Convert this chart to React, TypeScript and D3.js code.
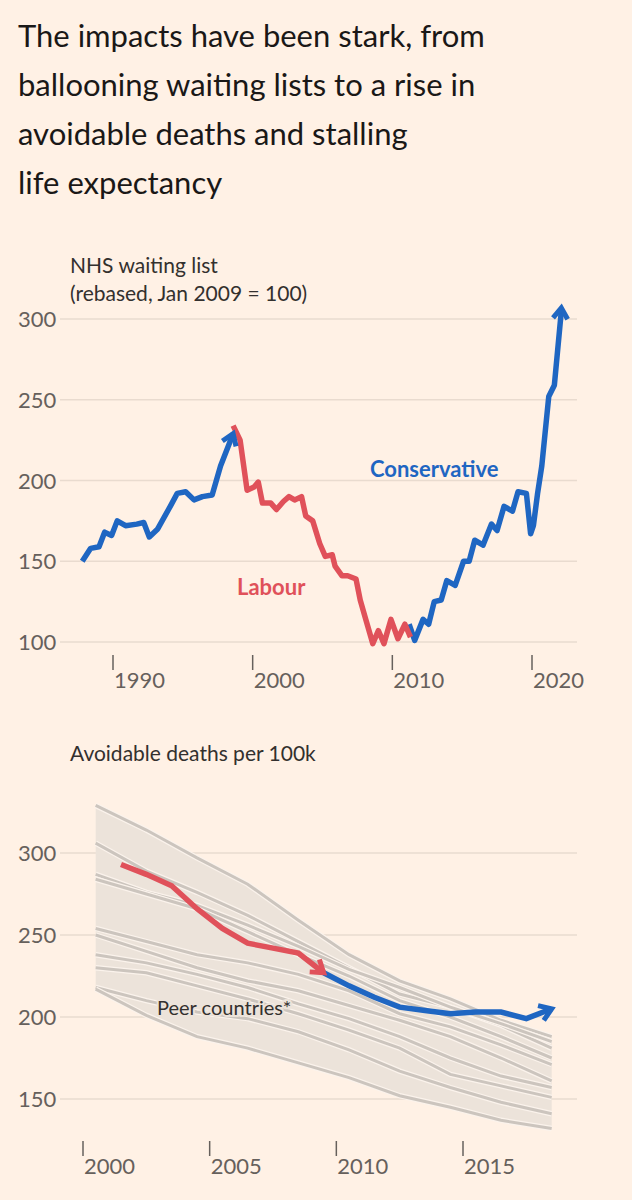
import { useEffect, useRef } from "react";
import * as d3 from "d3";

// NHS waiting list, rebased (Jan 2009 = 100): [year, value]
const conservative1: [number, number][] = [
  [1987.8, 150], [1988.4, 158], [1989.0, 159], [1989.4, 168], [1989.9, 166],
  [1990.3, 175], [1990.9, 172], [1991.7, 173], [1992.2, 174], [1992.6, 165],
  [1993.2, 170], [1994.1, 184], [1994.6, 192], [1995.2, 193], [1995.8, 188],
  [1996.4, 190], [1997.1, 191], [1997.7, 209], [1998.6, 229],
];
const labour: [number, number][] = [
  [1998.6, 234], [1999.1, 225], [1999.6, 194], [2000.1, 196], [2000.4, 199],
  [2000.7, 186], [2001.3, 186], [2001.7, 182], [2002.2, 187], [2002.6, 190],
  [2003.0, 188], [2003.5, 190], [2003.8, 178], [2004.3, 175], [2004.8, 161],
  [2005.2, 153], [2005.7, 154], [2005.9, 147], [2006.4, 141], [2006.8, 141],
  [2007.4, 139], [2007.7, 126], [2008.1, 114], [2008.6, 99], [2009.0, 107],
  [2009.4, 99], [2009.9, 114], [2010.4, 102], [2010.9, 111], [2011.3, 103],
];
const conservative2: [number, number][] = [
  [2011.2, 111], [2011.6, 101], [2012.2, 114], [2012.6, 111], [2013.0, 125],
  [2013.5, 126], [2013.9, 138], [2014.5, 135], [2015.1, 150], [2015.5, 150],
  [2015.9, 163], [2016.5, 160], [2017.1, 173], [2017.5, 169], [2018.0, 184],
  [2018.6, 181], [2019.0, 193], [2019.6, 192], [2019.9, 167], [2020.1, 172],
  [2020.4, 192], [2020.7, 209], [2021.2, 252], [2021.6, 259], [2022.1, 305],
];
const waitTicksY = [100, 150, 200, 250, 300];
const waitTicksX = [1990, 2000, 2010, 2020];

// Avoidable deaths per 100k
const deathYears = d3.range(2001, 2019);
const ukDeaths = [293, 287, 280, 266, 254, 245, 242, 239, 227, 219, 212, 206, 204, 202, 203, 203, 199, 205];
const labourEnd = 2009;
const peerYears = [2000, 2002, 2004, 2006, 2008, 2010, 2012, 2014, 2016, 2018];
const peers: number[][] = [
  [329, 314, 297, 281, 259, 238, 222, 211, 198, 188],
  [306, 289, 276, 262, 246, 230, 214, 206, 195, 181],
  [287, 276, 268, 256, 243, 229, 218, 206, 196, 185],
  [284, 275, 266, 252, 238, 225, 210, 200, 188, 175],
  [254, 246, 238, 233, 226, 216, 202, 194, 183, 171],
  [250, 240, 230, 222, 216, 207, 198, 188, 175, 161],
  [238, 233, 226, 218, 208, 199, 188, 175, 164, 157],
  [230, 227, 219, 211, 202, 192, 181, 165, 158, 151],
  [218, 210, 203, 199, 191, 180, 167, 157, 148, 141],
  [217, 201, 188, 181, 172, 163, 152, 145, 137, 132],
];
const deathTicksY = [150, 200, 250, 300];
const deathTicksX = [2000, 2005, 2010, 2015];

const BLUE = "#1f66c2";
const RED = "#e0515a";
const GRID = "#e9dbcf";
const AXIS = "#66605c";
const FONT = "Lato, 'Open Sans', sans-serif";

function arrowHead(g: any, pts: [number, number][], color: string, size = 13) {
  const [x0, y0] = pts[pts.length - 2];
  const [x1, y1] = pts[pts.length - 1];
  const a = Math.atan2(y1 - y0, x1 - x0);
  const p = (da: number) => [x1 - size * Math.cos(a + da), y1 - size * Math.sin(a + da)];
  const l = p(0.6), r = p(-0.6);
  g.append("path")
    .attr("d", `M${l[0]},${l[1]}L${x1},${y1}L${r[0]},${r[1]}`)
    .attr("fill", "none").attr("stroke", color).attr("stroke-width", 5)
    .attr("stroke-linejoin", "miter").attr("stroke-linecap", "butt");
}

export default function App() {
  const ref = useRef<SVGSVGElement>(null);

  useEffect(() => {
    document.body.style.margin = "0";
    const svg = d3.select(ref.current);
    svg.selectAll("*").remove();
    svg.append("rect").attr("width", 632).attr("height", 1200).attr("fill", "#fff1e5");

    const title = ["The impacts have been stark, from", "ballooning waiting lists to a rise in", "avoidable deaths and stalling", "life expectancy"];
    title.forEach((t, i) =>
      svg.append("text").attr("x", 18).attr("y", 47 + i * 49).text(t)
        .attr("font-size", 31).attr("fill", "#1a1817").attr("font-family", FONT));

    // --- Chart 1: waiting list
    const x1 = d3.scaleLinear().domain([1990, 2020]).range([113, 532]);
    const y1 = d3.scaleLinear().domain([100, 300]).range([642, 319]);
    const g1 = svg.append("g");
    ["NHS waiting list", "(rebased, Jan 2009 = 100)"].forEach((t, i) =>
      g1.append("text").attr("x", 70).attr("y", 273 + i * 28).text(t)
        .attr("font-size", 21).attr("fill", "#33302e").attr("font-family", FONT));
    waitTicksY.forEach((v) => {
      g1.append("line").attr("x1", 60).attr("x2", 577).attr("y1", y1(v)).attr("y2", y1(v))
        .attr("stroke", GRID).attr("stroke-width", 1.5);
      g1.append("text").attr("x", 18).attr("y", y1(v) + 8).text(v)
        .attr("font-size", 22).attr("fill", AXIS).attr("font-family", FONT);
    });
    waitTicksX.forEach((v) => {
      g1.append("line").attr("x1", x1(v)).attr("x2", x1(v)).attr("y1", 655).attr("y2", 670)
        .attr("stroke", AXIS).attr("stroke-width", 1.5);
      g1.append("text").attr("x", x1(v) + 1).attr("y", 688).text(v)
        .attr("font-size", 22).attr("fill", AXIS).attr("font-family", FONT);
    });
    const line1 = d3.line<[number, number]>().x((d) => x1(d[0])).y((d) => y1(d[1]));
    const segs: [[number, number][], string][] = [[conservative1, BLUE], [conservative2, BLUE], [labour, RED]];
    segs.forEach(([d, c]) => {
      g1.append("path").attr("d", line1(d)).attr("fill", "none").attr("stroke", c)
        .attr("stroke-width", 5.5).attr("stroke-linejoin", "round");
    });
    arrowHead(g1, conservative1.map((d) => [x1(d[0]), y1(d[1])]), BLUE);
    arrowHead(g1, conservative2.map((d) => [x1(d[0]), y1(d[1]) - 3]) as [number, number][], BLUE);
    g1.append("text").attr("x", 370).attr("y", 477).text("Conservative").attr("fill", BLUE)
      .attr("font-size", 22).attr("font-weight", 700).attr("font-family", FONT);
    g1.append("text").attr("x", 237).attr("y", 595).text("Labour").attr("fill", RED)
      .attr("font-size", 22).attr("font-weight", 700).attr("font-family", FONT);

    // --- Chart 2: avoidable deaths
    const x2 = d3.scaleLinear().domain([2000, 2015]).range([83, 463]);
    const xd = (yr: number) => x2(yr + 0.5);
    const y2 = d3.scaleLinear().domain([150, 300]).range([1099, 853]);
    const g2 = svg.append("g");
    g2.append("text").attr("x", 70).attr("y", 761).text("Avoidable deaths per 100k")
      .attr("font-size", 21).attr("fill", "#33302e").attr("font-family", FONT);
    deathTicksY.forEach((v) => {
      g2.append("line").attr("x1", 60).attr("x2", 577).attr("y1", y2(v)).attr("y2", y2(v))
        .attr("stroke", GRID).attr("stroke-width", 1.5);
      g2.append("text").attr("x", 18).attr("y", y2(v) + 8).text(v)
        .attr("font-size", 22).attr("fill", AXIS).attr("font-family", FONT);
    });
    deathTicksX.forEach((v) => {
      g2.append("line").attr("x1", x2(v)).attr("x2", x2(v)).attr("y1", 1141).attr("y2", 1156)
        .attr("stroke", AXIS).attr("stroke-width", 1.5);
      g2.append("text").attr("x", x2(v) + 1).attr("y", 1174).text(v)
        .attr("font-size", 22).attr("fill", AXIS).attr("font-family", FONT);
    });
    const area = d3.area<number>()
      .x((_, i) => xd(peerYears[i]))
      .y0((_, i) => y2(d3.min(peers, (p) => p[i])!))
      .y1((_, i) => y2(d3.max(peers, (p) => p[i])!));
    g2.append("path").attr("d", area(peerYears)).attr("fill", "#ece3da");
    const pl = d3.line<number>().x((_, i) => xd(peerYears[i])).y((v) => y2(v));
    peers.forEach((p) => {
      g2.append("path").attr("d", pl(p)).attr("fill", "none").attr("stroke", "#fbf3ec").attr("stroke-width", 5.5);
      g2.append("path").attr("d", pl(p)).attr("fill", "none").attr("stroke", "#ccc5be").attr("stroke-width", 3);
    });
    const pts = deathYears.map((yr, i) => [xd(yr), y2(ukDeaths[i])] as [number, number]);
    const li = deathYears.indexOf(labourEnd);
    const redPts = pts.slice(0, li + 1);
    const bluePts = pts.slice(li);
    g2.append("path").attr("d", d3.line()(redPts)).attr("fill", "none").attr("stroke", RED).attr("stroke-width", 5.5);
    g2.append("path").attr("d", d3.line()(bluePts)).attr("fill", "none").attr("stroke", BLUE).attr("stroke-width", 5.5);
    arrowHead(g2, redPts, RED, 14);
    arrowHead(g2, bluePts, BLUE, 14);
    g2.append("text").attr("x", 157).attr("y", 1015).text("Peer countries*")
      .attr("font-size", 20).attr("fill", "#33302e").attr("font-family", FONT)
      .attr("stroke", "#ece3da").attr("stroke-width", 4).attr("paint-order", "stroke");
  }, []);

  return <svg ref={ref} width={632} height={1200} style={{ display: "block" }} />;
}
